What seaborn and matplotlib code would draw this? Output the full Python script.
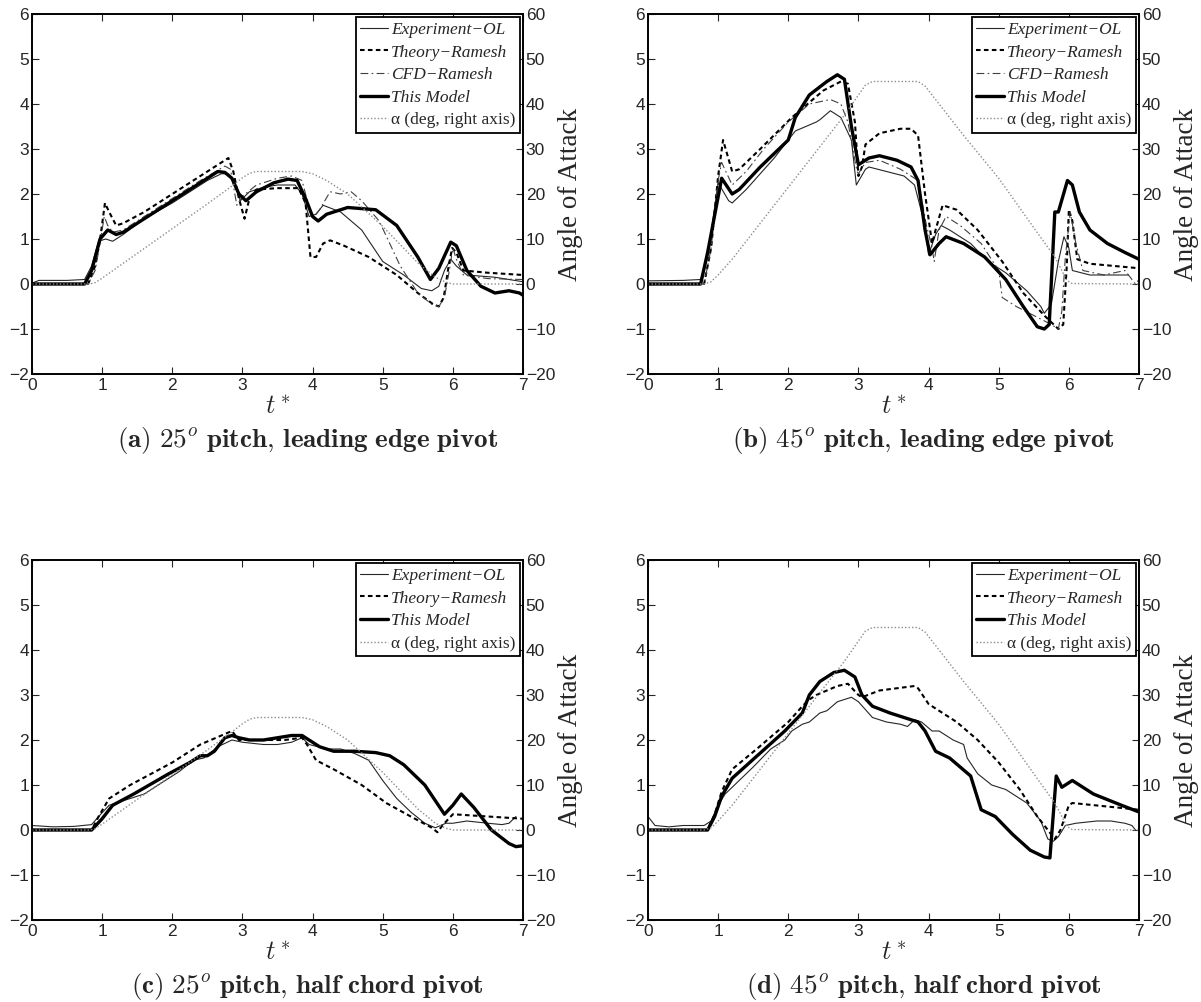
import matplotlib
matplotlib.use("Agg")
import matplotlib.pyplot as plt
import seaborn as sns
import pandas as pd

# ---- data: (t*, value) ----
# (a) 25 deg, leading edge pivot
exp_a = [(0, 0.02), (0.1, 0.08), (0.5, 0.08), (0.75, 0.1), (0.85, 0.4), (0.95, 0.95), (1.05, 1.0),
         (1.15, 0.95), (1.3, 1.1), (1.6, 1.45), (2.0, 1.8), (2.3, 2.1), (2.5, 2.3), (2.7, 2.45),
         (2.8, 2.45), (2.9, 2.2), (2.97, 1.85), (3.1, 2.05), (3.3, 2.15), (3.5, 2.2), (3.75, 2.2),
         (3.85, 2.0), (3.95, 1.5), (4.05, 1.55), (4.15, 1.75), (4.4, 1.6), (4.7, 1.2), (5.0, 0.5),
         (5.3, 0.2), (5.55, -0.1), (5.7, -0.15), (5.8, -0.05), (5.88, 0.3), (5.97, 0.55),
         (6.05, 0.4), (6.2, 0.2), (6.6, 0.15), (7.0, 0.05)]
theory_a = [(0, 0), (0.8, 0), (0.9, 0.4), (0.98, 1.1), (1.04, 1.8), (1.1, 1.6), (1.2, 1.3), (1.3, 1.35),
            (1.6, 1.6), (2.0, 2.0), (2.4, 2.4), (2.7, 2.7), (2.8, 2.8), (2.87, 2.5), (2.95, 1.9),
            (3.03, 1.45), (3.1, 1.9), (3.2, 2.1), (3.5, 2.13), (3.8, 2.13), (3.9, 1.8), (3.97, 0.6),
            (4.05, 0.6), (4.15, 0.9), (4.25, 0.97), (4.45, 0.85), (4.8, 0.6), (5.2, 0.2), (5.5, -0.2),
            (5.72, -0.45), (5.8, -0.5), (5.87, -0.3), (5.94, 0.4), (5.99, 0.8), (6.05, 0.7),
            (6.15, 0.3), (6.5, 0.25), (7.0, 0.2)]
cfd_a = [(0, 0), (0.8, 0), (0.9, 0.3), (0.97, 0.9), (1.03, 1.5), (1.08, 1.3), (1.15, 1.15), (1.3, 1.2),
         (1.6, 1.5), (2.0, 1.9), (2.4, 2.3), (2.75, 2.62), (2.83, 2.55), (2.92, 1.75), (3.0, 1.95),
         (3.2, 2.2), (3.5, 2.35), (3.7, 2.4), (3.85, 2.3), (3.95, 1.7), (4.02, 1.5), (4.1, 1.65),
         (4.25, 2.05), (4.4, 2.0), (4.55, 2.05), (4.7, 1.85), (4.95, 1.4), (5.25, 0.4), (5.5, -0.2),
         (5.7, -0.45), (5.8, -0.5), (5.88, -0.3), (5.95, 0.3), (6.0, 0.8), (6.05, 0.55), (6.15, 0.2),
         (6.5, 0.12), (7.0, 0.1)]
model_a = [(0, 0), (0.75, 0), (0.85, 0.3), (0.97, 1.0), (1.08, 1.2), (1.2, 1.1), (1.3, 1.15), (1.6, 1.45),
           (2.0, 1.85), (2.4, 2.25), (2.65, 2.5), (2.75, 2.48), (2.85, 2.35), (2.95, 2.0), (3.05, 1.85),
           (3.2, 2.05), (3.45, 2.25), (3.65, 2.33), (3.78, 2.3), (3.9, 1.9), (4.0, 1.5), (4.08, 1.4),
           (4.2, 1.55), (4.5, 1.7), (4.9, 1.65), (5.2, 1.3), (5.5, 0.6), (5.68, 0.1), (5.8, 0.35),
           (5.97, 0.93), (6.05, 0.85), (6.2, 0.3), (6.4, -0.05), (6.6, -0.2), (6.8, -0.15),
           (6.95, -0.2), (7.0, -0.25)]
alpha25 = [(0, 0), (0.82, 0), (0.9, 0.3), (1.0, 1.3), (1.2, 3.5), (1.5, 6.8), (2.0, 12.3), (2.5, 17.8),
           (2.8, 21.2), (3.0, 23.6), (3.1, 24.6), (3.2, 25), (3.85, 25), (4.0, 24.5), (4.2, 23),
           (4.5, 20), (5.0, 12.8), (5.5, 4.7), (5.75, 1.5), (5.9, 0.4), (6.0, 0), (7, 0)]

# (b) 45 deg, leading edge pivot
exp_b = [(0, 0.07), (0.5, 0.08), (0.75, 0.1), (0.85, 0.6), (1.0, 2.25), (1.15, 1.85), (1.2, 1.8),
         (1.4, 2.1), (1.8, 2.8), (2.1, 3.4), (2.4, 3.6), (2.45, 3.65), (2.6, 3.85), (2.75, 3.7),
         (2.9, 3.2), (2.97, 2.2), (3.1, 2.55), (3.15, 2.6), (3.4, 2.5), (3.65, 2.4), (3.8, 2.2),
         (3.95, 1.3), (4.0, 0.65), (4.1, 1.1), (4.18, 1.3), (4.3, 1.2), (4.6, 0.9), (4.85, 0.5),
         (5.1, 0.25), (5.4, -0.15), (5.6, -0.5), (5.65, -0.65), (5.75, -0.45), (5.85, 0.5),
         (5.93, 1.05), (6.0, 0.8), (6.05, 0.3), (6.3, 0.2), (6.85, 0.2)]
theory_b = [(0, 0), (0.8, 0), (0.9, 0.8), (1.0, 2.4), (1.07, 3.2), (1.2, 2.5), (1.3, 2.55), (1.6, 3.0),
            (2.05, 3.7), (2.5, 4.3), (2.75, 4.5), (2.85, 4.45), (2.95, 3.6), (3.0, 2.4), (3.05, 2.6),
            (3.1, 3.1), (3.3, 3.35), (3.6, 3.45), (3.75, 3.45), (3.85, 3.3), (3.95, 2.0), (4.05, 0.9),
            (4.1, 1.2), (4.2, 1.75), (4.4, 1.65), (4.7, 1.2), (5.05, 0.5), (5.35, -0.2), (5.65, -0.7),
            (5.85, -1.0), (5.92, -0.9), (5.97, 0.4), (6.0, 1.65), (6.05, 1.4), (6.12, 0.55),
            (6.3, 0.45), (7.0, 0.35)]
cfd_b = [(0, 0), (0.8, 0), (0.9, 0.8), (1.0, 2.3), (1.05, 2.7), (1.2, 2.2), (1.4, 2.5), (1.65, 3.0),
         (2.0, 3.6), (2.3, 4.0), (2.6, 4.1), (2.75, 4.0), (2.85, 3.6), (2.98, 2.5), (3.0, 2.45),
         (3.1, 2.7), (3.3, 2.75), (3.6, 2.55), (3.85, 2.3), (3.97, 1.3), (4.05, 0.8), (4.08, 0.5),
         (4.15, 1.2), (4.25, 1.5), (4.45, 1.3), (4.75, 0.9), (5.0, 0.3), (5.05, -0.3), (5.25, -0.5),
         (5.5, -0.7), (5.75, -0.9), (5.85, -1.0), (5.9, -0.6), (5.95, 0.6), (6.02, 1.6), (6.1, 0.9),
         (6.2, 0.3), (6.5, 0.2), (6.8, 0.3), (6.95, 0.0), (7.0, 0.1)]
model_b = [(0, 0), (0.75, 0), (0.85, 0.7), (1.05, 2.35), (1.2, 2.0), (1.3, 2.1), (1.6, 2.6), (2.0, 3.2),
           (2.1, 3.7), (2.3, 4.2), (2.55, 4.5), (2.7, 4.65), (2.8, 4.55), (2.9, 3.5), (3.0, 2.65),
           (3.15, 2.8), (3.3, 2.85), (3.55, 2.75), (3.75, 2.6), (3.85, 2.3), (3.95, 1.2), (4.02, 0.65),
           (4.15, 0.9), (4.25, 1.05), (4.5, 0.9), (4.8, 0.6), (5.1, 0.1), (5.35, -0.5), (5.55, -0.95),
           (5.65, -1.0), (5.72, -0.9), (5.8, 1.6), (5.85, 1.6), (5.98, 2.3), (6.05, 2.2), (6.15, 1.6),
           (6.3, 1.2), (6.55, 0.9), (6.8, 0.7), (7.0, 0.55)]
alpha45 = [(0, 0), (0.8, 0), (0.9, 0.5), (1.0, 2), (1.2, 5.5), (1.5, 11.5), (2.0, 21.5), (2.5, 31.5),
           (2.8, 37.5), (3.0, 42), (3.1, 44.2), (3.2, 45), (3.85, 45), (3.95, 44), (4.1, 41), (4.5, 33),
           (5.0, 23.5), (5.5, 12.5), (5.8, 6), (5.9, 3), (5.97, 0.8), (6.05, 0.1), (7, 0)]

# (c) 25 deg, half chord pivot
exp_c = [(0, 0.1), (0.3, 0.07), (0.6, 0.08), (0.85, 0.12), (0.95, 0.3), (1.1, 0.55), (1.3, 0.65),
         (1.6, 0.8), (1.9, 1.1), (2.1, 1.3), (2.3, 1.55), (2.45, 1.6), (2.65, 1.85), (2.85, 2.0),
         (3.0, 1.95), (3.3, 1.9), (3.5, 1.9), (3.7, 1.95), (3.85, 2.05), (3.95, 1.9), (4.2, 1.8),
         (4.4, 1.8), (4.6, 1.7), (4.8, 1.55), (5.0, 1.1), (5.2, 0.7), (5.4, 0.4), (5.6, 0.15),
         (5.75, 0.05), (5.9, 0.15), (6.0, 0.15), (6.2, 0.2), (6.5, 0.15), (6.7, 0.12), (6.8, 0.15),
         (6.9, 0.3)]
theory_c = [(0, 0), (0.85, 0), (0.95, 0.3), (1.1, 0.7), (1.4, 1.0), (2.0, 1.5), (2.4, 1.9), (2.85, 2.2),
            (2.95, 2.0), (3.6, 2.0), (3.85, 2.05), (3.92, 1.9), (4.05, 1.55), (4.3, 1.35), (4.7, 1.0),
            (5.05, 0.6), (5.4, 0.3), (5.7, 0.05), (5.78, -0.05), (5.85, 0.1), (6.0, 0.35), (6.5, 0.3),
            (7.0, 0.25)]
model_c = [(0, 0), (0.85, 0), (1.0, 0.25), (1.15, 0.55), (1.45, 0.8), (1.95, 1.25), (2.25, 1.5),
           (2.4, 1.65), (2.5, 1.65), (2.6, 1.75), (2.75, 2.05), (2.85, 2.1), (2.95, 2.05), (3.1, 2.0),
           (3.3, 2.0), (3.5, 2.05), (3.7, 2.1), (3.85, 2.1), (3.95, 2.0), (4.1, 1.85), (4.3, 1.75),
           (4.6, 1.75), (4.9, 1.72), (5.1, 1.65), (5.3, 1.45), (5.6, 1.0), (5.88, 0.35), (6.0, 0.55),
           (6.12, 0.8), (6.3, 0.5), (6.55, 0.0), (6.8, -0.3), (6.9, -0.37), (7.0, -0.35)]

# (d) 45 deg, half chord pivot
exp_d = [(0, 0.3), (0.1, 0.1), (0.3, 0.07), (0.5, 0.1), (0.8, 0.1), (0.9, 0.2), (1.0, 0.55), (1.1, 0.8),
         (1.3, 1.1), (1.5, 1.4), (1.75, 1.8), (1.95, 2.0), (2.05, 2.2), (2.2, 2.35), (2.3, 2.4),
         (2.45, 2.6), (2.55, 2.65), (2.7, 2.85), (2.9, 2.95), (3.0, 2.85), (3.2, 2.5), (3.4, 2.4),
         (3.6, 2.35), (3.7, 2.3), (3.8, 2.45), (3.9, 2.4), (4.05, 2.2), (4.15, 2.2), (4.35, 2.0),
         (4.5, 1.9), (4.55, 1.6), (4.7, 1.25), (4.9, 1.0), (5.1, 0.9), (5.4, 0.6), (5.6, 0.2),
         (5.7, -0.2), (5.78, -0.25), (5.85, -0.15), (5.95, 0.1), (6.1, 0.15), (6.4, 0.2), (6.6, 0.2),
         (6.8, 0.15), (6.9, 0.1), (6.95, 0.0)]
theory_d = [(0, 0), (0.85, 0), (0.95, 0.35), (1.05, 0.85), (1.2, 1.35), (1.55, 1.8), (2.0, 2.4),
            (2.2, 2.75), (2.3, 2.9), (2.4, 3.0), (2.7, 3.2), (2.85, 3.25), (3.0, 3.0), (3.05, 2.95),
            (3.3, 3.1), (3.8, 3.2), (3.85, 3.15), (4.0, 2.8), (4.4, 2.4), (4.7, 2.0), (5.0, 1.5),
            (5.3, 0.9), (5.55, 0.3), (5.7, 0.0), (5.8, -0.2), (5.88, 0.0), (6.0, 0.55), (6.05, 0.6),
            (7.0, 0.45)]
model_d = [(0, 0), (0.85, 0), (0.95, 0.3), (1.05, 0.75), (1.2, 1.15), (1.45, 1.5), (1.95, 2.2),
           (2.2, 2.6), (2.3, 3.0), (2.45, 3.3), (2.65, 3.5), (2.8, 3.55), (2.95, 3.4), (3.05, 3.0),
           (3.2, 2.75), (3.45, 2.6), (3.85, 2.4), (3.95, 2.2), (4.1, 1.75), (4.3, 1.6), (4.6, 1.2),
           (4.75, 0.45), (4.95, 0.3), (5.2, -0.1), (5.45, -0.45), (5.65, -0.6), (5.73, -0.62),
           (5.82, 1.2), (5.9, 0.95), (6.05, 1.1), (6.35, 0.8), (6.75, 0.55), (7.0, 0.4)]

captions = [r"$\mathbf{(a)}\ 25^o\ \mathbf{pitch,\,leading\ edge\ pivot}$",
            r"$\mathbf{(b)}\ 45^o\ \mathbf{pitch,\,leading\ edge\ pivot}$",
            r"$\mathbf{(c)}\ 25^o\ \mathbf{pitch,\,half\ chord\ pivot}$",
            r"$\mathbf{(d)}\ 45^o\ \mathbf{pitch,\,half\ chord\ pivot}$"]

# ---- style ----
sns.set_style("white")
plt.rcParams["font.family"] = ["Liberation Sans", "DejaVu Sans"]
plt.rcParams["mathtext.fontset"] = "cm"
plt.rcParams["axes.edgecolor"] = "black"
plt.rcParams["axes.linewidth"] = 1.2
plt.rcParams["xtick.direction"] = "in"
plt.rcParams["ytick.direction"] = "in"

fig = plt.figure(figsize=(12.01, 10.02), dpi=100)

W, H = 1201, 1002
boxes = [(32, 14), (648, 14), (32, 560), (648, 560)]  # (left px, top px) of each axes
aw, ah = 491, 360

panels = [
    (exp_a, theory_a, cfd_a, model_a, alpha25),
    (exp_b, theory_b, cfd_b, model_b, alpha45),
    (exp_c, theory_c, None, model_c, alpha25),
    (exp_d, theory_d, None, model_d, alpha45),
]


def draw(ax, pts, **kw):
    df = pd.DataFrame(pts, columns=["t", "v"])
    sns.lineplot(data=df, x="t", y="v", ax=ax, estimator=None, sort=False, **kw)


for i, (exp, th, cfd, mod, alp) in enumerate(panels):
    left, top = boxes[i]
    ax = fig.add_axes([left / W, 1 - (top + ah) / H, aw / W, ah / H])
    ax2 = ax.twinx()

    draw(ax, exp, color="0.15", linewidth=0.8, label="Experiment\u2212OL")
    draw(ax, th, color="black", linewidth=1.5, linestyle=(0, (2.2, 1.6)), label="Theory\u2212Ramesh")
    if cfd is not None:
        draw(ax, cfd, color="0.25", linewidth=0.8, linestyle=(0, (7, 3, 1.5, 3)), label="CFD\u2212Ramesh")
    draw(ax, mod, color="black", linewidth=2.4, label="This Model")
    draw(ax2, alp, color="0.55", linewidth=1.0, linestyle=(0, (1, 1.5)), label="\u03b1 (deg, right axis)")

    ax.set_xlim(0, 7)
    ax.set_ylim(-2, 6)
    ax.set_xticks(range(0, 8))
    ax.set_yticks(range(-2, 7))
    ax2.set_ylim(-20, 60)
    ax2.set_yticks(range(-20, 61, 10))
    ax.set_xlabel("")
    ax.set_ylabel("")
    ax.tick_params(axis="x", top=True, bottom=True, length=5, width=0.8, labelsize=12.5, pad=3)
    ax.tick_params(axis="y", left=True, right=False, length=5, width=0.8, labelsize=12.5, pad=2)
    ax2.tick_params(axis="y", right=True, length=5, width=0.8, labelsize=12.5, pad=2)
    ax2.set_ylabel("Angle of Attack", fontsize=19.5, family="Liberation Serif", labelpad=2)

    h1, l1 = ax.get_legend_handles_labels()
    h2, l2 = ax2.get_legend_handles_labels()
    if ax.get_legend() is not None:
        ax.get_legend().remove()
    leg = ax2.legend(h1 + h2, l1 + l2, loc="upper right", fancybox=False, framealpha=1,
                     edgecolor="black", borderaxespad=0.2, borderpad=0.25, handlelength=1.6,
                     handletextpad=0.15, labelspacing=0.37,
                     prop={"family": "Liberation Serif", "style": "italic", "size": 12.5})
    leg.get_frame().set_linewidth(1.3)
    leg.get_texts()[-1].set_fontstyle("normal")

    ax.text(0.5, -0.112, r"$t^*$", transform=ax.transAxes, ha="center", va="baseline", fontsize=19)

    cx = (left + aw / 2 + 30) / W
    cy = 1 - (top + ah + 66) / H
    fig.text(cx, cy, captions[i], ha="center", va="center", fontsize=19.5)

fig.savefig("out.png", dpi=100)
